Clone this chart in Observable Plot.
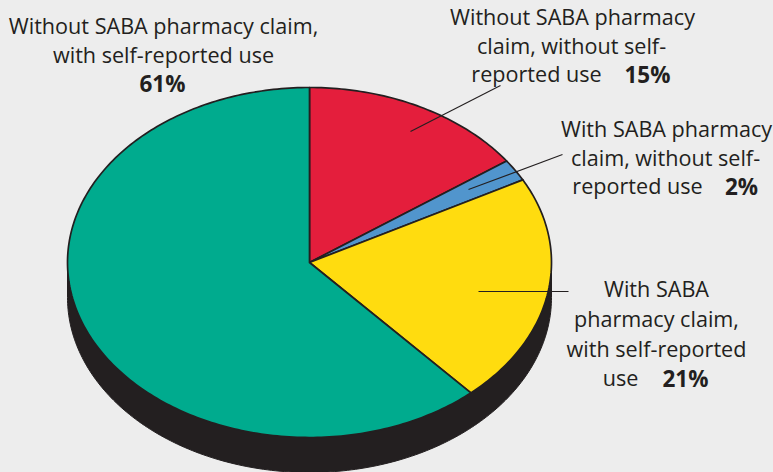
<!DOCTYPE html>
<html>
<head>
<meta charset="utf-8">
<script src="https://cdn.jsdelivr.net/npm/d3@7"></script>
<script src="https://cdn.jsdelivr.net/npm/@observablehq/plot@0.6"></script>
<style>
html,body{margin:0;padding:0;background:#ededed;overflow:hidden}
svg{display:block}
</style>
</head>
<body>
<div id="chart"></div>
<script>
const categories = [
  "Without SABA pharmacy claim, without self-reported use",
  "With SABA pharmacy claim, without self-reported use",
  "With SABA pharmacy claim, with self-reported use",
  "Without SABA pharmacy claim, with self-reported use"
];
const shares = [15, 2, 21, 61];
const colors = ["#e41e3c", "#5195cd", "#ffdc0f", "#00ab8e"];
const ink = "#231f20";

const textLines = [
  "Without SABA pharmacy claim,", "with self-reported use",
  "Without SABA pharmacy", "claim, without self-", "reported use",
  "With SABA pharmacy", "claim, without self-", "reported use",
  "With SABA", "pharmacy claim,", "with self-reported", "use"
];
const textX = [163, 163, 572, 571, 536, 666, 665, 637, 656, 656, 656, 620];
const textY = [27, 56, 18, 47, 75, 130, 159, 187, 290, 320, 350, 379];
const percentLabels = ["61%", "15%", "2%", "21%"];
const percentX = [162, 647, 741, 685];
const percentY = [84, 75, 187, 379];

const leaderX1 = [410, 468, 478];
const leaderY1 = [131, 189, 291];
const leaderX2 = [500, 562, 568];
const leaderY2 = [85, 154, 291];

const cx = 309, cy = 262, rx = 242, ry = 175, depth = 35;
const toPoint = (a, dy = 0) => ({x: cx + rx * Math.sin(a), y: cy - ry * Math.cos(a) + dy});

const arcs = d3.pie().sort(null)(shares);
const slicePoints = arcs.flatMap((arc, i) => {
  const n = Math.max(4, Math.ceil((arc.endAngle - arc.startAngle) * 60));
  const outer = d3.range(n + 1).map(k => toPoint(arc.startAngle + (arc.endAngle - arc.startAngle) * k / n));
  return [{x: cx, y: cy}, ...outer, {x: cx, y: cy}].map(p => ({...p, category: categories[i]}));
});
const sideArc = d3.range(0, 181).map(k => toPoint(Math.PI / 2 + k * Math.PI / 180, depth));
const side = [toPoint(Math.PI / 2), ...sideArc, toPoint(Math.PI * 1.5), toPoint(Math.PI / 2)];

const fontFamily = "'Open Sans', sans-serif";

const plot = Plot.plot({
  width: 773, height: 472,
  margin: 0,
  x: {domain: [0, 773], range: [0, 773], axis: null},
  y: {domain: [0, 472], range: [0, 472], axis: null},
  color: {domain: categories, range: colors},
  style: {background: "#ededed", fontFamily},
  marks: [
    Plot.line(side, {x: "x", y: "y", fill: ink, stroke: ink, strokeWidth: 1}),
    Plot.line(slicePoints, {x: "x", y: "y", z: "category", fill: "category", stroke: ink, strokeWidth: 1.7, strokeLinejoin: "round"}),
    Plot.link(leaderX1, {x1: leaderX1, y1: leaderY1, x2: leaderX2, y2: leaderY2, stroke: ink, strokeWidth: 1.1}),
    Plot.text(textLines, {x: textX, y: textY, text: d => d, fill: ink, fontSize: 21.6, fontFamily, textAnchor: "middle", lineAnchor: "middle"}),
    Plot.text(percentLabels, {x: percentX, y: percentY, text: d => d, fill: ink, fontSize: 22.5, fontFamily, fontWeight: 700, textAnchor: "middle", lineAnchor: "middle"})
  ]
});
document.getElementById("chart").appendChild(plot);
</script>
</body>
</html>
